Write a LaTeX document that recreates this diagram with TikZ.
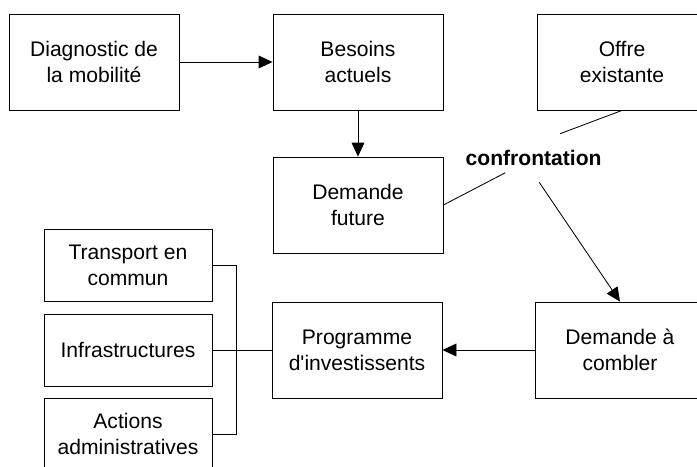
\documentclass[tikz,border=0pt]{standalone}
\usepackage{fontspec}
\setmainfont{Liberation Sans}
\usetikzlibrary{arrows.meta}

\begin{document}
\begin{tikzpicture}[
  every node/.style={font=\fontsize{15}{18.5}\selectfont, align=center},
  bigbox/.style={draw, line width=0.6pt, minimum width=4.25cm, minimum height=2.4cm},
  smallbox/.style={draw, line width=0.6pt, minimum width=4.2cm, minimum height=1.8cm},
  arr/.style={-{Triangle[length=0.35cm, width=0.32cm]}, line width=0.6pt},
  lnk/.style={line width=0.6pt},
]
  \clip (0, 0) rectangle (17.425, 11.65);

  \node[bigbox] (diag)    at (2.35, 10.1)   {Diagnostic de\\la mobilité};
  \node[bigbox] (besoins) at (8.95, 10.1)   {Besoins\\actuels};
  \node[bigbox] (offre)   at (15.55, 10.1)  {Offre\\existante};
  \node[bigbox] (demfut)  at (8.95, 6.525)  {Demande\\future};
  \node[minimum height=1.2cm, inner xsep=0pt, font=\fontsize{15}{18.5}\selectfont\bfseries]
                (conf)    at (13.34, 7.7)   {confrontation};
  \node[bigbox] (demcomb) at (15.5, 2.9)    {Demande à\\combler};
  \node[bigbox] (prog)    at (8.925, 2.9)   {Programme\\d\textquotesingle investissents};

  \node[smallbox] (tc)      at (3.2, 5.01) {Transport en\\commun};
  \node[smallbox] (infra)   at (3.2, 2.9)  {Infrastructures};
  \node[smallbox] (actions) at (3.2, 0.8)  {Actions\\administratives};

  \draw[arr] (diag) -- (besoins);
  \draw[arr] (besoins) -- (demfut);
  \draw[lnk] (offre.south) -- ([xshift=0.66cm]conf.north);
  \draw[lnk, shorten >=0.8cm] (demfut.east) -- (conf.center);
  \draw[arr] ([xshift=0.14cm]conf.south) -- (demcomb.north);
  \draw[arr] (demcomb) -- (prog);

  % bracket joining the three action boxes
  \draw[lnk] (tc.east) -- ++(0.6, 0) |- (actions.east);
  \draw[lnk] (infra) -- (prog);
\end{tikzpicture}
\end{document}
